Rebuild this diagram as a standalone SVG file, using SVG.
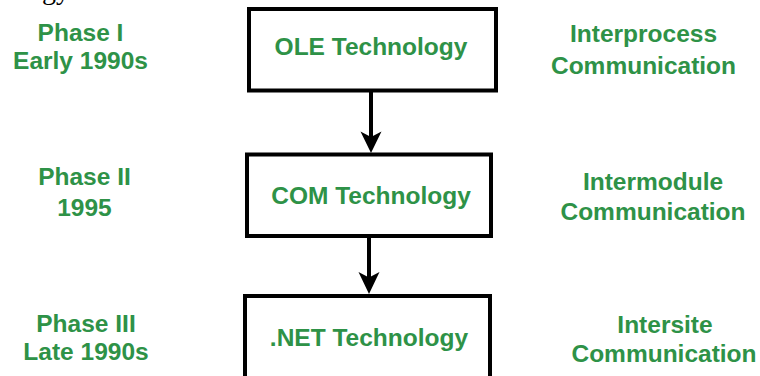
<svg xmlns="http://www.w3.org/2000/svg" width="760" height="376" viewBox="0 0 760 376">
  <defs>
    <style>
      .lbl { font-family: "Liberation Sans", Arial, sans-serif; font-weight: bold; font-size: 24.5px; fill: #2e9247; text-anchor: middle; }
      .box { fill: #ffffff; stroke: #000000; stroke-width: 4; }
      .edge { stroke: #000000; stroke-width: 4; fill: none; }
      .head { fill: #000000; stroke: none; }
      .frag { font-family: "Liberation Serif", "Times New Roman", serif; font-size: 28px; fill: #000000; }
    </style>
  </defs>
  <rect width="760" height="376" fill="#ffffff"/>
  <text class="frag" x="42" y="-1">gy</text>

  <g id="connectors">
    <line class="edge" x1="371" y1="90" x2="371" y2="138"/>
    <path class="head" d="M371,153 L360.5,131.5 L371,137 L381.5,131.5 Z"/>
    <line class="edge" x1="369" y1="236" x2="369" y2="278"/>
    <path class="head" d="M369,294 L358.5,272 L369,277.5 L379.5,272 Z"/>
  </g>

  <g id="node-ole">
    <rect class="box" x="249" y="9" width="247" height="81.5"/>
    <text class="lbl" x="371" y="55">OLE Technology</text>
  </g>
  <g id="node-com">
    <rect class="box" x="247" y="154.5" width="244" height="81.5"/>
    <text class="lbl" x="371" y="204">COM Technology</text>
  </g>
  <g id="node-net">
    <rect class="box" x="245" y="296" width="245" height="100"/>
    <text class="lbl" x="369" y="346">.NET Technology</text>
  </g>

  <g id="phase-1">
    <text class="lbl" x="80.5" y="41">Phase I</text>
    <text class="lbl" x="80.5" y="69">Early 1990s</text>
  </g>
  <g id="phase-2">
    <text class="lbl" x="84.5" y="185">Phase II</text>
    <text class="lbl" x="84.5" y="216">1995</text>
  </g>
  <g id="phase-3">
    <text class="lbl" x="86" y="332">Phase III</text>
    <text class="lbl" x="86" y="360">Late 1990s</text>
  </g>

  <g id="comm-1">
    <text class="lbl" x="643.5" y="42">Interprocess</text>
    <text class="lbl" x="643.5" y="74">Communication</text>
  </g>
  <g id="comm-2">
    <text class="lbl" x="653" y="190">Intermodule</text>
    <text class="lbl" x="653" y="220">Communication</text>
  </g>
  <g id="comm-3">
    <text class="lbl" x="665" y="333">Intersite</text>
    <text class="lbl" x="664" y="362">Communication</text>
  </g>
</svg>
